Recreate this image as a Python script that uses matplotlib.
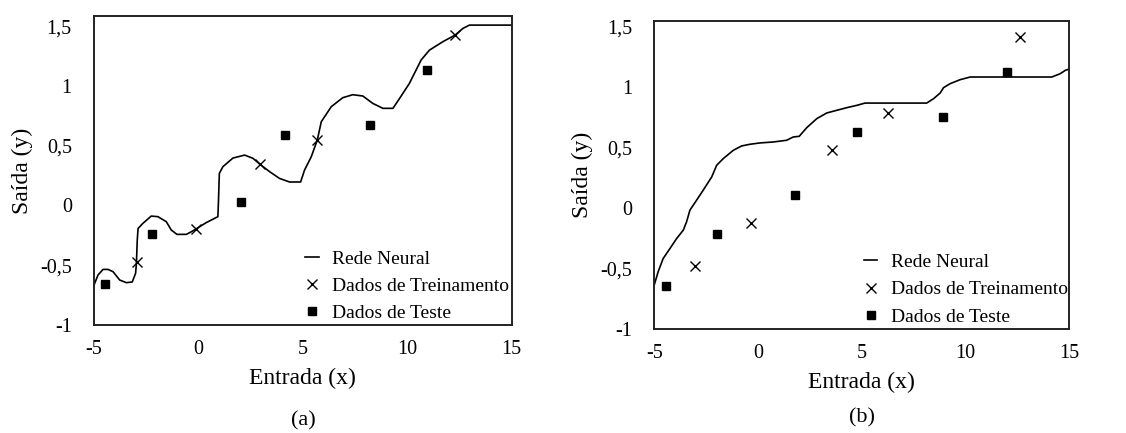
from __future__ import annotations

import matplotlib

matplotlib.use("Agg")
import matplotlib.pyplot as plt


# panel (a): network trained well
NET_A_X = [-5.0, -4.81, -4.57, -4.33, -4.09, -3.77, -3.45, -3.17, -3.01, -2.97, -2.93, -2.89,
           -2.66, -2.26, -1.94, -1.54, -1.30, -1.03, -0.58, -0.34, -0.10, 0.37, 0.93, 0.96,
           1.00, 1.17, 1.65, 2.21, 2.61, 2.93, 3.41, 3.88, 4.36, 4.89, 5.08, 5.40, 5.69,
           5.88, 6.36, 6.91, 7.39, 7.87, 8.35, 8.83, 9.31, 9.63, 10.10, 10.66, 11.06, 11.70,
           12.29, 12.66, 12.97, 15.0]
NET_A_Y = [-0.666, -0.582, -0.535, -0.535, -0.554, -0.624, -0.646, -0.64, -0.568, -0.484,
           -0.289, -0.192, -0.15, -0.089, -0.094, -0.136, -0.206, -0.242, -0.242, -0.22,
           -0.195, -0.144, -0.094, 0.045, 0.268, 0.324, 0.396, 0.421, 0.394, 0.346, 0.282,
           0.226, 0.196, 0.196, 0.296, 0.407, 0.547, 0.700, 0.826, 0.901, 0.926, 0.915,
           0.853, 0.812, 0.812, 0.895, 1.021, 1.216, 1.299, 1.369, 1.425, 1.480, 1.508, 1.508]
TRAIN_A_X = [-2.93, -0.10, 2.93, 5.69, 12.29]
TRAIN_A_Y = [-0.476, -0.195, 0.346, 0.547, 1.425]
TEST_A_X = [-4.47, -2.21, 2.05, 4.15, 8.21, 10.95]
TEST_A_Y = [-0.66, -0.239, 0.026, 0.586, 0.675, 1.129]

# panel (b): network with poor fit
NET_B_X = [-5.0, -4.81, -4.57, -4.24, -3.92, -3.60, -3.44, -3.28, -2.96, -2.64, -2.23, -1.99,
           -1.67, -1.19, -0.79, -0.39, 0.10, 0.74, 1.38, 1.70, 1.99, 2.35, 2.83, 3.31, 3.79,
           4.28, 4.76, 5.16, 5.72, 6.53, 7.49, 8.13, 8.46, 8.78, 8.94, 9.26, 9.74, 10.23,
           10.71, 12.16, 14.16, 14.56, 14.81, 15.0]
NET_B_Y = [-0.637, -0.527, -0.418, -0.335, -0.253, -0.184, -0.115, -0.019, 0.063, 0.146,
           0.255, 0.352, 0.407, 0.475, 0.511, 0.525, 0.536, 0.544, 0.558, 0.585, 0.591,
           0.662, 0.736, 0.783, 0.805, 0.827, 0.846, 0.865, 0.865, 0.865, 0.865, 0.865,
           0.901, 0.948, 0.992, 1.025, 1.058, 1.080, 1.080, 1.080, 1.080, 1.107, 1.135, 1.146]
TRAIN_B_X = [-3.04, -0.35, 3.59, 6.25, 12.65]
TRAIN_B_Y = [-0.483, -0.126, 0.478, 0.786, 1.407]
TEST_B_X = [-4.41, -1.99, 1.80, 4.76, 8.94, 11.99]
TEST_B_Y = [-0.648, -0.214, 0.104, 0.624, 0.753, 1.118]

X_TICKS = [-5, 0, 5, 10, 15]
Y_TICKS = [-1, -0.5, 0, 0.5, 1, 1.5]
Y_TICK_LABELS = ["-1", "-0,5", "0", "0,5", "1", "1,5"]
LEGEND_LABELS = ["Rede Neural", "Dados de Treinamento", "Dados de Teste"]


def draw_panel(ax, net_x, net_y, tr_x, tr_y, te_x, te_y, ylim, tag, tag_y, legend_y):
    ax.plot(net_x, net_y, color="black", linewidth=1.2, label=LEGEND_LABELS[0])
    ax.plot(tr_x, tr_y, linestyle="none", marker="x", color="black", markersize=6.5,
            markeredgewidth=1.0, label=LEGEND_LABELS[1])
    ax.plot(te_x, te_y, linestyle="none", marker="s", color="black", markersize=5.5,
            label=LEGEND_LABELS[2])
    ax.set_xlim(-5, 15)
    ax.set_ylim(*ylim)
    ax.set_xticks(X_TICKS)
    ax.set_xticklabels([str(t) for t in X_TICKS])
    ax.set_yticks(Y_TICKS)
    ax.set_yticklabels(Y_TICK_LABELS)
    ax.tick_params(length=0, labelsize=14.5, pad=11)
    ax.tick_params(axis="y", pad=16)
    for spine in ax.spines.values():
        spine.set_linewidth(1.4)
        spine.set_color("#222222")
    ax.set_xlabel("Entrada (x)", fontsize=17, labelpad=6)
    ax.set_ylabel("Saída (y)", fontsize=17, labelpad=5)
    ax.legend(loc="upper left", bbox_to_anchor=(0.505, legend_y), frameon=False, fontsize=14,
              handlelength=0.7, handletextpad=0.7, labelspacing=0.5, borderpad=0,
              borderaxespad=0)
    ax.text(0.5, tag_y, tag, transform=ax.transAxes, ha="center", va="center", fontsize=16)


def main() -> None:
    plt.rcParams.update({"font.family": ["Liberation Serif", "DejaVu Serif"]})
    fig = plt.figure(figsize=(11.26, 4.33), dpi=100)
    ax_a = fig.add_axes([0.0835, 0.2494, 0.371, 0.7136])
    ax_b = fig.add_axes([0.581, 0.240, 0.3686, 0.712])
    draw_panel(ax_a, NET_A_X, NET_A_Y, TRAIN_A_X, TRAIN_A_Y, TEST_A_X, TEST_A_Y,
               (-1.0, 1.584), "(a)", -0.31, 0.243)
    draw_panel(ax_b, NET_B_X, NET_B_Y, TRAIN_B_X, TRAIN_B_Y, TEST_B_X, TEST_B_Y,
               (-1.0, 1.544), "(b)", -0.287, 0.245)
    fig.savefig("out.png", dpi=100)
    plt.close(fig)


if __name__ == "__main__":
    main()
